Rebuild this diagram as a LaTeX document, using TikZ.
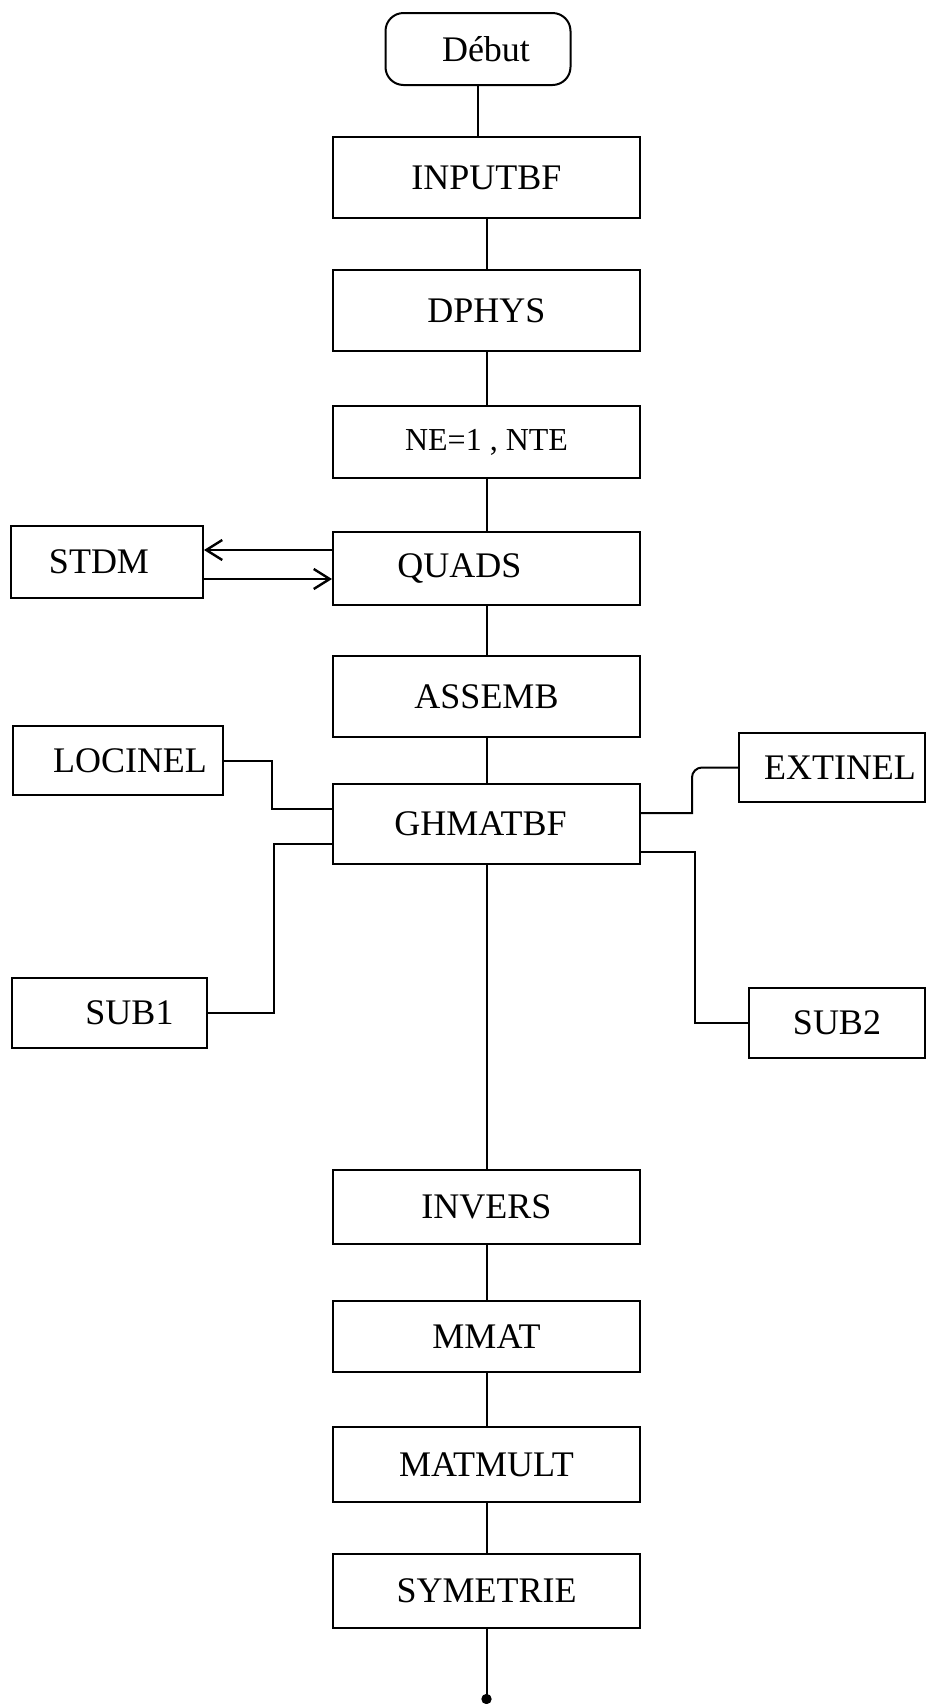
\documentclass[tikz,border=0pt]{standalone}
\usepackage{fontspec}
\setmainfont{Liberation Serif}
\usetikzlibrary{arrows.meta}
\tikzset{
  box/.style={draw, line width=1pt, inner sep=0pt, font=\fontsize{18}{20}\selectfont},
  mainbox/.style={box, minimum width=153.5pt},
  conn/.style={line width=1pt},
  arr/.style={conn, -{Straight Barb[length=8pt,width=10pt,line width=1.2pt]}}
}
\begin{document}
\begin{tikzpicture}[x=0.5pt,y=-0.5pt]
\useasboundingbox (0,0) rectangle (927,1704);
% main column
\node[box, rounded corners=9pt, minimum width=92.5pt, minimum height=36pt] (debut) at (478,49) {\hspace*{8pt}Début};
\node[mainbox, minimum height=40.5pt] (inputbf) at (486.5,177.5) {INPUTBF};
\node[mainbox, minimum height=40.5pt] (dphys) at (486.5,310.5) {DPHYS};
\node[mainbox, minimum height=36pt, font=\fontsize{16}{18}\selectfont] (ne) at (486.5,442) {NE=1 , NTE};
\node[mainbox, minimum height=36.5pt] (quads) at (486.5,568.5) {QUADS\hspace*{27pt}};
\node[mainbox, minimum height=40.5pt] (assemb) at (486.5,696.5) {ASSEMB};
\node[mainbox, minimum height=40pt] (gh) at (486.5,824) {GHMATBF\hspace*{6pt}};
\node[mainbox, minimum height=37pt] (invers) at (486.5,1207) {INVERS};
\node[mainbox, minimum height=35.5pt] (mmat) at (486.5,1336.5) {MMAT};
\node[mainbox, minimum height=37.5pt] (matmult) at (486.5,1464.5) {MATMULT};
\node[mainbox, minimum height=37pt] (sym) at (486.5,1591) {SYMETRIE};
% side boxes
\node[box, minimum width=96pt, minimum height=36pt] (stdm) at (107,562) {STDM\hspace*{8pt}};
\node[box, minimum width=105pt, minimum height=34.5pt] (locinel) at (118,760.5) {\hspace*{12pt}LOCINEL};
\node[box, minimum width=93pt, minimum height=34.5pt] (extinel) at (832,767.5) {\hspace*{8pt}EXTINEL};
\node[box, minimum width=97.5pt, minimum height=35pt] (sub1) at (109.5,1013) {\hspace*{20pt}SUB1};
\node[box, minimum width=88pt, minimum height=35pt] (sub2) at (837,1023) {SUB2};
% vertical connectors
\draw[conn] (debut.south) -- (debut.south |- inputbf.north);
\draw[conn] (inputbf.south) -- (dphys.north);
\draw[conn] (dphys.south) -- (ne.north);
\draw[conn] (ne.south) -- (quads.north);
\draw[conn] (quads.south) -- (assemb.north);
\draw[conn] (assemb.south) -- (gh.north);
\draw[conn] (gh.south) -- (invers.north);
\draw[conn] (invers.south) -- (mmat.north);
\draw[conn] (mmat.south) -- (matmult.north);
\draw[conn] (matmult.south) -- (sym.north);
\coordinate (fin) at (486.5,1699);
\draw[conn] (sym.south) -- (fin);
\fill (fin) circle (2.6pt);
% QUADS <-> STDM
\coordinate (q1) at ([yshift=9.25pt]quads.west);
\coordinate (q2) at ([yshift=-5.25pt]quads.west);
\draw[arr] (q1) -- (q1 -| stdm.east);
\draw[arr] (q2 -| stdm.east) -- (q2);
% GHMATBF side links
\coordinate (lx) at (272,0);
\coordinate (sx) at (274,0);
\coordinate (ex) at (692,0);
\coordinate (s2x) at (695,0);
\coordinate (gl1) at ([yshift=7.5pt]gh.west);
\coordinate (gs1) at ([yshift=-10pt]gh.west);
\coordinate (ge1) at ([yshift=5.5pt]gh.east);
\coordinate (gs2) at ([yshift=-14pt]gh.east);
\draw[conn] (locinel.east) -| (lx |- gl1) -- (gl1);
\draw[conn] (gs1) -| (sx |- sub1.east) -- (sub1.east);
\draw[conn] (ge1) -- (ex |- ge1) [rounded corners=5pt] -- (ex |- extinel.west) -- (extinel.west);
\draw[conn] (gs2) -| (s2x |- sub2.west) -- (sub2.west);
\end{tikzpicture}
\end{document}
